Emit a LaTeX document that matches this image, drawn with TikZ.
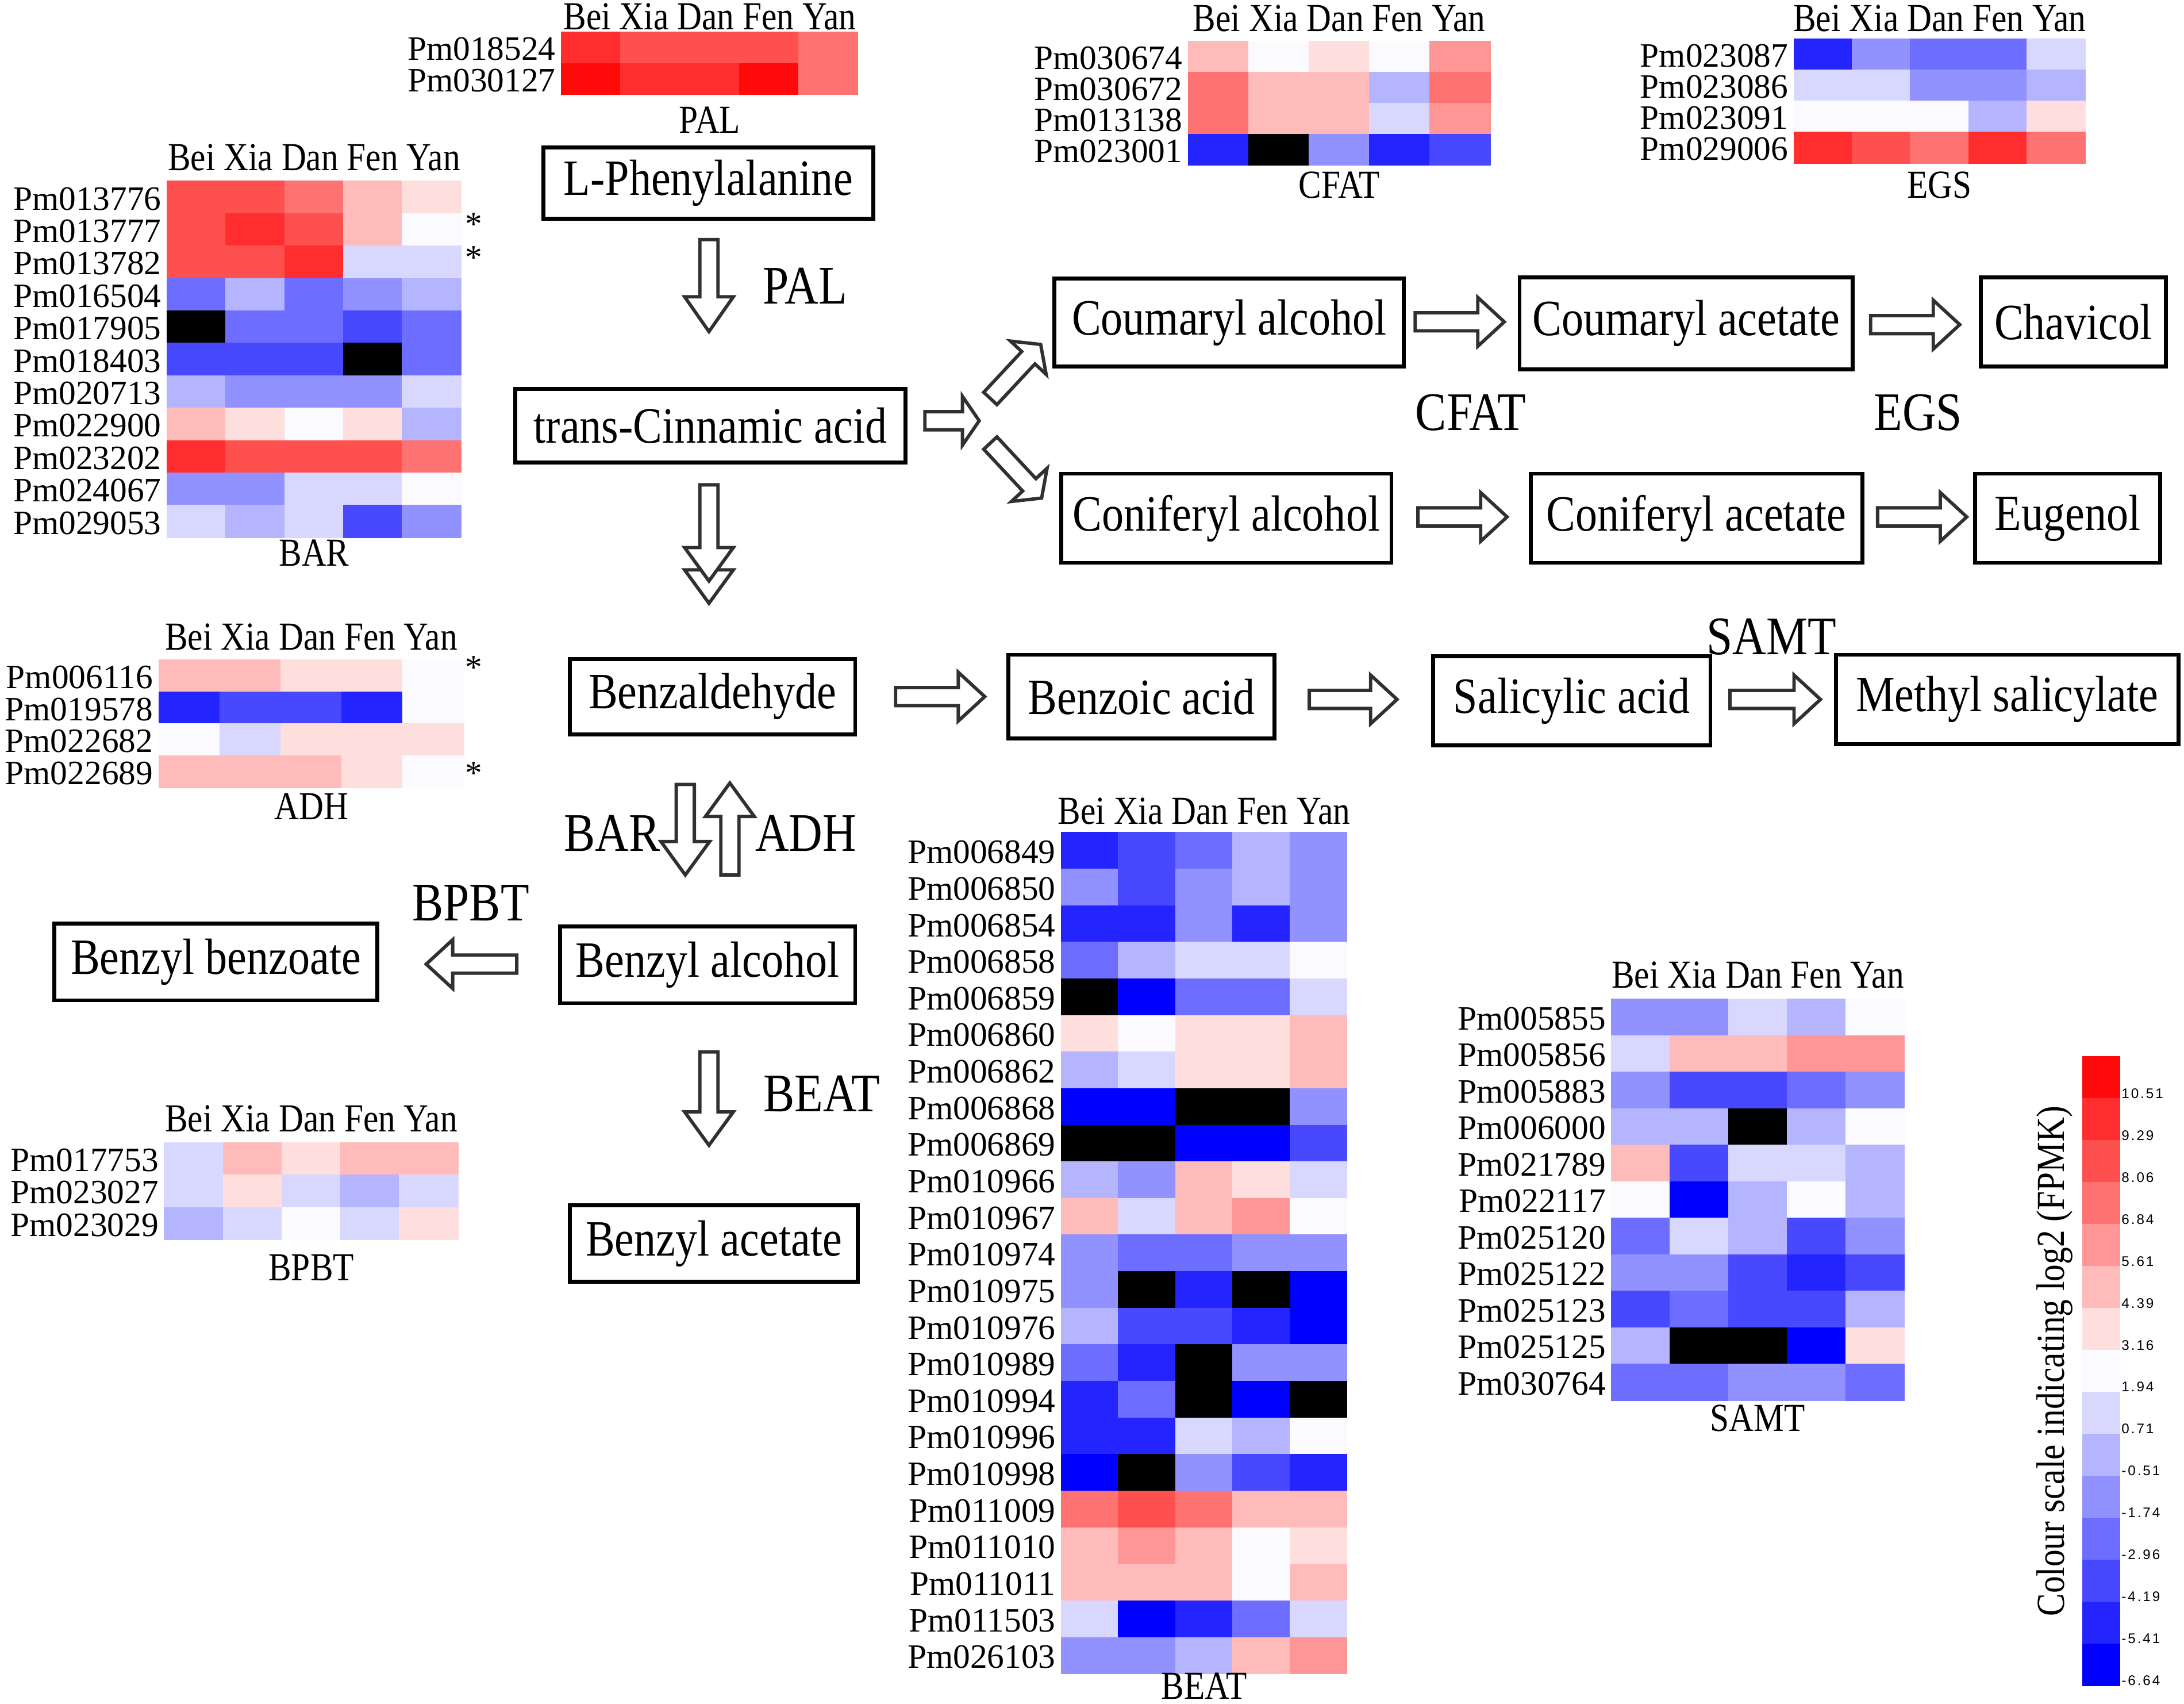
\documentclass[tikz,border=0pt]{standalone}
\usepackage{fontspec}
\setmainfont[FakeStretch=0.86]{Liberation Serif}
\newfontfamily\plainserif{Liberation Serif}
\newfontfamily\legsans[LetterSpace=12]{Liberation Sans}
\definecolor{hmA}{HTML}{0000FF}
\definecolor{hmB}{HTML}{2424FF}
\definecolor{hmC}{HTML}{4848FF}
\definecolor{hmD}{HTML}{6D6DFF}
\definecolor{hmE}{HTML}{9191FF}
\definecolor{hmF}{HTML}{B4B4FF}
\definecolor{hmG}{HTML}{D8D8FF}
\definecolor{hmW}{HTML}{FAFAFF}
\definecolor{hmP}{HTML}{FFDEDE}
\definecolor{hmQ}{HTML}{FFBABA}
\definecolor{hmR}{HTML}{FF9696}
\definecolor{hmS}{HTML}{FF7272}
\definecolor{hmT}{HTML}{FF5050}
\definecolor{hmU}{HTML}{FF2D2D}
\definecolor{hmV}{HTML}{FF0A0A}
\definecolor{hmK}{HTML}{000000}
\definecolor{arrowgray}{HTML}{303030}
\newcommand\hmfont{\fontsize{28.5}{32}\selectfont}
\newcommand\rowfont{\plainserif\fontsize{24.5}{28}\selectfont}
\newcommand\boxfont{\fontsize{36.5}{40}\selectfont}
\newcommand\enzfont{\fontsize{39}{44}\selectfont}
\tikzset{
  hmlab/.style={font=\hmfont, inner sep=0pt},
  rowlab/.style={font=\rowfont, inner sep=0pt},
  box/.style={draw, line width=2.8pt, inner sep=0pt, font=\boxfont},
  enz/.style={font=\enzfont, inner sep=0pt},
  ticklab/.style={font=\legsans\fontsize{10}{12}\selectfont, inner sep=0pt, anchor=west},
  pics/barrow/.style 2 args={code={
    \draw[line width=2.4pt, draw=arrowgray, fill=white, line join=miter]
      (0,-6.5) -- ({#1-#2},-6.5) -- ({#1-#2},-17.5) -- (#1,0) -- ({#1-#2},17.5) -- ({#1-#2},6.5) -- (0,6.5) -- cycle;
  }}
}
% #1 name, #2 x0, #3 y0, #4 cell w, #5 cell h, #6 header y, #7 title, #8 title y, #9 rows
\newcommand\hmap[9]{%
  \foreach \lab/\ca/\cb/\cc/\cd/\ce [count=\ri] in {#9} {
    \foreach \cl [count=\ki] in {\ca,\cb,\cc,\cd,\ce} {
      \fill[fill=hm\cl, draw=hm\cl, line width=0.5pt] ({#2+(\ki-1)*#4},{#3+(\ri-1)*#5}) rectangle ++(#4,#5);
    }
    \node[rowlab, anchor=east] (#1-l\ri) at ({#2-4},{#3+(\ri-0.5)*#5+1}) {\lab};
  }
  \node[hmlab] (#1-head) at ({#2+2.5*#4},#6) {Bei Xia Dan Fen Yan};
  \node[hmlab] (#1-title) at ({#2+2.5*#4},#8) {#7};
}
\begin{document}
\begin{tikzpicture}[x=1pt,y=-1pt]
\useasboundingbox[fill=white] (0,0) rectangle (1568,1223);

% ---------------- heatmaps ----------------
\hmap{pal}{403}{23}{42.6}{22.5}{12}{PAL}{86}{
  Pm018524/U/T/T/T/S,
  Pm030127/V/U/U/V/S}

\hmap{bar}{120}{130}{42.2}{23.27}{113}{BAR}{397}{
  Pm013776/T/T/S/Q/P,
  Pm013777/T/U/T/Q/W,
  Pm013782/T/T/U/G/G,
  Pm016504/D/F/D/E/F,
  Pm017905/K/D/D/C/D,
  Pm018403/C/C/C/K/D,
  Pm020713/F/E/E/E/G,
  Pm022900/Q/P/W/P/F,
  Pm023202/U/T/T/T/S,
  Pm024067/E/E/G/G/W,
  Pm029053/G/F/G/C/E}
\node[rowlab] (bar-s2) at (340,161) {*};
\node[rowlab] (bar-s3) at (340,185) {*};

\hmap{adh}{114}{473.5}{43.8}{23}{457}{ADH}{579}{
  Pm006116/Q/Q/P/P/W,
  Pm019578/B/C/C/B/W,
  Pm022682/W/G/P/P/P,
  Pm022689/Q/Q/Q/P/W}
\node[rowlab] (adh-s1) at (340,479) {*};
\node[rowlab] (adh-s4) at (340,555) {*};

\hmap{bpbt}{118}{820}{42.2}{23.3}{803}{BPBT}{910}{
  Pm017753/G/Q/P/Q/Q,
  Pm023027/G/P/G/F/G,
  Pm023029/F/G/W/G/P}

\hmap{cfat}{853}{29.5}{43.4}{22.3}{13}{CFAT}{133}{
  Pm030674/Q/W/P/W/R,
  Pm030672/S/Q/Q/F/S,
  Pm013138/S/Q/Q/G/R,
  Pm023001/B/K/E/B/C}

\hmap{egs}{1288}{28}{41.8}{22.3}{13}{EGS}{133}{
  Pm023087/B/E/D/D/G,
  Pm023086/G/G/E/E/F,
  Pm023091/W/W/W/F/P,
  Pm029006/U/T/S/U/S}

\hmap{beat}{762}{597.5}{41}{26.26}{582}{BEAT}{1210}{
  Pm006849/B/C/D/F/E,
  Pm006850/E/C/E/F/E,
  Pm006854/B/B/E/B/E,
  Pm006858/D/F/G/G/W,
  Pm006859/K/A/D/D/G,
  Pm006860/P/W/P/P/Q,
  Pm006862/F/G/P/P/Q,
  Pm006868/A/A/K/K/E,
  Pm006869/K/K/A/A/C,
  Pm010966/F/E/Q/P/G,
  Pm010967/Q/G/Q/R/W,
  Pm010974/E/D/D/E/E,
  Pm010975/E/K/B/K/A,
  Pm010976/F/C/C/B/A,
  Pm010989/D/B/K/E/E,
  Pm010994/B/D/K/A/K,
  Pm010996/B/B/G/F/W,
  Pm010998/A/K/E/C/B,
  Pm011009/S/T/S/Q/Q,
  Pm011010/Q/R/Q/W/P,
  Pm011011/Q/Q/Q/W/Q,
  Pm011503/G/A/B/D/G,
  Pm026103/E/E/F/Q/R}

\hmap{samt}{1157}{717}{42}{26.2}{700}{SAMT}{1018}{
  Pm005855/E/E/G/F/W,
  Pm005856/G/Q/Q/R/R,
  Pm005883/E/C/C/D/E,
  Pm006000/F/F/K/F/W,
  Pm021789/Q/C/G/G/F,
  Pm022117/W/A/F/W/F,
  Pm025120/D/G/F/C/E,
  Pm025122/E/E/C/B/C,
  Pm025123/C/D/C/C/F,
  Pm025125/F/K/K/A/P,
  Pm030764/D/D/E/E/D}

% ---------------- colour scale ----------------
\foreach \col [count=\i from 0] in {V,U,T,S,R,Q,P,W,G,F,E,D,C,B,A} {
  \fill[fill=hm\col, draw=hm\col, line width=0.4pt] (1495,{758+\i*30.13}) rectangle ++(27,30.13);
}
\foreach \t [count=\i from 0] in {10.51,9.29,8.06,6.84,5.61,4.39,3.16,1.94,0.71,-0.51,-1.74,-2.96,-4.19,-5.41,-6.64} {
  \node[ticklab] (tick\i) at (1523,{785+\i*30.07}) {\t};
}
\node[hmlab, rotate=90] (scalelab) at (1475,977) {Colour scale indicating log2 (FPMK)};

% ---------------- pathway boxes ----------------
\node[box, minimum width=237, minimum height=51] (phe) at (508.5,131.5) {L-Phenylalanine};
\node[box, minimum width=280, minimum height=53] (cinn) at (510,305.5) {trans-Cinnamic acid};
\node[box, minimum width=251, minimum height=63] (coumalc) at (882.5,231.5) {Coumaryl alcohol};
\node[box, minimum width=239, minimum height=66] (coumace) at (1210.5,232) {Coumaryl acetate};
\node[box, minimum width=133, minimum height=64] (chav) at (1488.5,231) {Chavicol};
\node[box, minimum width=237, minimum height=64] (conalc) at (880.5,372) {Coniferyl alcohol};
\node[box, minimum width=238, minimum height=64] (conace) at (1218,372) {Coniferyl acetate};
\node[box, minimum width=133, minimum height=64] (eug) at (1484.5,372) {Eugenol};
\node[box, minimum width=205, minimum height=54] (bald) at (511.5,500) {Benzaldehyde};
\node[box, minimum width=191, minimum height=60] (bzacid) at (819.5,500) {Benzoic acid};
\node[box, minimum width=199, minimum height=64] (salacid) at (1128.5,503) {Salicylic acid};
\node[box, minimum width=246, minimum height=64] (mesal) at (1441,502) {Methyl salicylate};
\node[box, minimum width=212, minimum height=55] (balc) at (508,692.5) {Benzyl alcohol};
\node[box, minimum width=232, minimum height=55] (bbenz) at (155,690.5) {Benzyl benzoate};
\node[box, minimum width=207, minimum height=55] (bace) at (512.5,892.5) {Benzyl acetate};

% ---------------- enzyme labels ----------------
\node[enz] (e-pal) at (578,205) {PAL};
\node[enz] (e-cfat) at (1056,296) {CFAT};
\node[enz] (e-egs) at (1377,296) {EGS};
\node[enz] (e-samt) at (1272,457) {SAMT};
\node[enz, anchor=east] (e-bar) at (474,598) {BAR};
\node[enz, anchor=west] (e-adh) at (542,598) {ADH};
\node[enz] (e-bpbt) at (338,648) {BPBT};
\node[enz] (e-beat) at (590,785) {BEAT};

% ---------------- hollow block arrows ----------------
\pic[rotate=-90] at (509,172) {barrow={66}{25}};
\pic[rotate=-90] at (509,398) {barrow={35}{24}};
\pic[rotate=-90] at (509,348) {barrow={69}{24}};
\pic at (664,302) {barrow={39}{12}};
\pic[rotate=47] at (711,286) {barrow={53}{13}};
\pic[rotate=-47] at (711,318) {barrow={54}{13}};
\pic at (1016,231) {barrow={64}{19}};
\pic at (1343,233) {barrow={64}{19}};
\pic at (1018,371) {barrow={64}{19}};
\pic at (1348,371) {barrow={64}{19}};
\pic at (643,500) {barrow={64}{19}};
\pic at (940,502) {barrow={63}{19}};
\pic at (1242,502) {barrow={65}{19}};
\pic[rotate=-90] at (492,563) {barrow={65}{24}};
\pic[rotate=90] at (524,628) {barrow={66}{24}};
\pic[rotate=180] at (371,692) {barrow={65}{19}};
\pic[rotate=-90] at (509,755) {barrow={67}{24}};
\end{tikzpicture}
\end{document}
